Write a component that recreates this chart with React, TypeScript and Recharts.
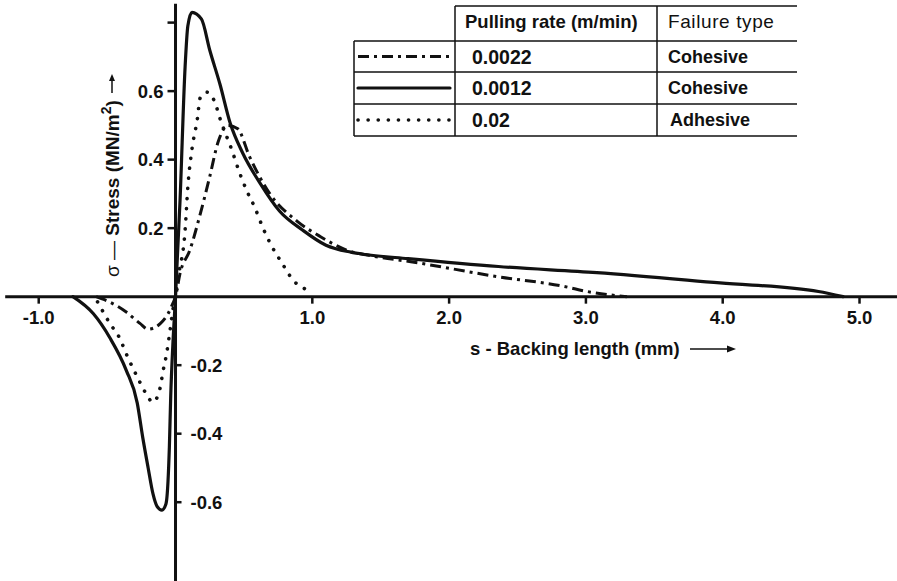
import React from "react";
import {
  ComposedChart,
  Line,
  XAxis,
  YAxis,
  ReferenceLine,
  ReferenceDot,
} from "recharts";

const WIDTH = 897;
const HEIGHT = 581;

// axis window chosen so that 0 sits where the scan puts it
const X_MIN = -1.283;
const X_MAX = 5.274;
const Y_MIN = -0.83;
const Y_MAX = 0.866;

// s - backing length (mm) / stress (MN/m2)
const rate0022S = [-0.58, -0.48, -0.36, -0.26, -0.2, -0.11, -0.055, -0.02, 0, 0.033, 0.105, 0.18, 0.25, 0.31, 0.385, 0.455, 0.54, 0.69, 0.89, 1.06, 1.25, 1.45, 1.72, 2.36, 2.84, 3.01, 3.3];
const rate0022Stress = [0, -0.016, -0.045, -0.078, -0.095, -0.078, -0.05, -0.02, 0, 0.068, 0.136, 0.24, 0.35, 0.45, 0.5, 0.49, 0.41, 0.3, 0.22, 0.175, 0.136, 0.118, 0.102, 0.058, 0.03, 0.015, 0];

const rate0012S = [-0.75, -0.6, -0.48, -0.36, -0.28, -0.24, -0.2, -0.165, -0.135, -0.1, -0.07, -0.055, -0.045, -0.035, -0.02, 0, 0.033, 0.07, 0.09, 0.12, 0.19, 0.25, 0.325, 0.4, 0.49, 0.62, 0.76, 0.93, 1.1, 1.28, 1.39, 1.7, 2.36, 3.08, 3.98, 4.7, 4.88];
const rate0012Stress = [0, -0.05, -0.12, -0.215, -0.31, -0.41, -0.5, -0.575, -0.612, -0.623, -0.605, -0.54, -0.44, -0.29, -0.145, 0, 0.28, 0.67, 0.79, 0.83, 0.81, 0.72, 0.62, 0.506, 0.42, 0.33, 0.25, 0.194, 0.15, 0.13, 0.123, 0.111, 0.088, 0.07, 0.04, 0.015, 0];

const rate02S = [-0.57, -0.48, -0.41, -0.35, -0.28, -0.22, -0.165, -0.115, -0.09, -0.065, -0.04, -0.02, 0, 0.02, 0.07, 0.09, 0.12, 0.16, 0.18, 0.23, 0.29, 0.325, 0.41, 0.47, 0.52, 0.58, 0.64, 0.7, 0.78, 0.86, 1.0];
const rate02Stress = [-0.015, -0.078, -0.12, -0.176, -0.234, -0.28, -0.308, -0.27, -0.215, -0.166, -0.098, -0.04, 0, 0.057, 0.194, 0.32, 0.43, 0.52, 0.58, 0.597, 0.565, 0.52, 0.43, 0.36, 0.31, 0.26, 0.2, 0.15, 0.097, 0.048, 0.016];

const pullingRates = ["0.0022", "0.0012", "0.02"];
const failureTypes = ["Cohesive", "Cohesive", "Adhesive"];

const xTicks = [-1, 1, 2, 3, 4, 5];
const xTickLabels = ["-1.0", "1.0", "2.0", "3.0", "4.0", "5.0"];
const yTicks = [0.8, 0.6, 0.4, 0.2, -0.2, -0.4, -0.6];
const yTickLabels = ["", "0.6", "0.4", "0.2", "-0.2", "-0.4", "-0.6"];

const zip = (xs: number[], ys: number[]) => xs.map((x, i) => ({ x, y: ys[i] }));

const FONT = "'Liberation Sans', Arial, Helvetica, sans-serif";
const INK = "#111";

const series = [
  { key: "r0022", data: zip(rate0022S, rate0022Stress), dash: "11 5 3 5", width: 3, cap: "butt" },
  { key: "r0012", data: zip(rate0012S, rate0012Stress), dash: undefined, width: 3.2, cap: "round" },
  { key: "r02", data: zip(rate02S, rate02Stress), dash: "0.1 10", width: 3.6, cap: "round" },
];

const textStyle = { fontFamily: FONT, fontWeight: 700, fontSize: 18.5, fill: INK };
const tableStyle = { ...textStyle, fontSize: 18 };

const XTick = (props: any) => {
  const { cx, cy, label } = props;
  return (
    <g>
      <line x1={cx} y1={cy} x2={cx} y2={cy + 7} stroke={INK} strokeWidth={2.5} />
      <text x={cx} y={cy + 21} textAnchor="middle" dominantBaseline="central" style={textStyle}>
        {label}
      </text>
    </g>
  );
};

const YTick = (props: any) => {
  const { cx, cy, label, value } = props;
  if (value > 0) {
    return (
      <g>
        <line x1={cx - 8} y1={cy} x2={cx} y2={cy} stroke={INK} strokeWidth={2.5} />
        {label ? (
          <text x={cx - 12} y={cy} textAnchor="end" dominantBaseline="central" style={textStyle}>
            {label}
          </text>
        ) : null}
      </g>
    );
  }
  return (
    <g>
      <line x1={cx} y1={cy} x2={cx + 6} y2={cy} stroke={INK} strokeWidth={2.5} />
      <text x={cx + 15} y={cy} textAnchor="start" dominantBaseline="central" style={textStyle}>
        {label}
      </text>
    </g>
  );
};

const LegendTable = () => {
  const left = 354;
  const col1 = 455;
  const col2 = 657;
  const right = 797;
  const rowLines = [41, 72, 104, 136];
  return (
    <svg width={WIDTH} height={150} style={{ position: "absolute", left: 0, top: 0, pointerEvents: "none" }}>
      <line x1={col1} y1={6} x2={right} y2={6} stroke={INK} strokeWidth={1.5} />
      {rowLines.map((y) => (
        <line key={y} x1={left} y1={y} x2={right} y2={y} stroke={INK} strokeWidth={1.5} />
      ))}
      <line x1={left} y1={41} x2={left} y2={136} stroke={INK} strokeWidth={1.5} />
      <line x1={col1} y1={6} x2={col1} y2={136} stroke={INK} strokeWidth={1.5} />
      <line x1={col2} y1={6} x2={col2} y2={136} stroke={INK} strokeWidth={1.5} />
      <text x={465} y={21} dominantBaseline="central" style={{ ...tableStyle, fontSize: 18.5 }}>
        Pulling rate (m/min)
      </text>
      <text x={668} y={21} dominantBaseline="central" style={{ ...tableStyle, fontWeight: 400, fontSize: 19, letterSpacing: 0.6 }}>
        Failure type
      </text>
      {series.map((s, i) => {
        const cy = (rowLines[i] + rowLines[i + 1]) / 2;
        return (
          <g key={s.key}>
            <line
              x1={358}
              y1={cy}
              x2={450}
              y2={cy}
              stroke={INK}
              strokeWidth={s.width}
              strokeDasharray={s.dash}
              strokeLinecap={s.cap as any}
            />
            <text x={472} y={cy} dominantBaseline="central" style={{ ...tableStyle, fontSize: 19.5 }}>
              {pullingRates[i]}
            </text>
            <text x={i === 2 ? 670 : 668} y={cy} dominantBaseline="central" style={tableStyle}>
              {failureTypes[i]}
            </text>
          </g>
        );
      })}
    </svg>
  );
};

const AxisTitles = () => (
  <svg width={WIDTH} height={HEIGHT} style={{ position: "absolute", left: 0, top: 0, pointerEvents: "none" }}>
    <g transform="translate(112 277) rotate(-90)">
      <text x={0} y={0} dominantBaseline="central" style={{ ...textStyle, fontSize: 19 }}>
        <tspan style={{ fontWeight: 400 }}>σ — </tspan>
        Stress (MN/m<tspan dy={-6} fontSize={14}>2</tspan>
        <tspan dy={6}>)</tspan>
      </text>
      <line x1={184} y1={0} x2={200} y2={0} stroke={INK} strokeWidth={1.5} />
      <polygon points="203,0 196,-3 196,3" fill={INK} />
    </g>
    <text x={470} y={348} dominantBaseline="central" style={textStyle}>
      s - Backing length (mm)
    </text>
    <line x1={690} y1={349} x2={728} y2={349} stroke={INK} strokeWidth={1.5} />
    <polygon points="736,349 727,345.5 727,352.5" fill={INK} />
  </svg>
);

export default function App() {
  return (
    <div style={{ position: "absolute", left: 0, top: 0, width: WIDTH, height: HEIGHT, background: "#fff" }}>
      <ComposedChart width={WIDTH} height={HEIGHT} margin={{ top: 0, right: 0, bottom: 0, left: 0 }}>
        <XAxis type="number" dataKey="x" domain={[X_MIN, X_MAX]} allowDataOverflow hide />
        <YAxis type="number" dataKey="y" domain={[Y_MIN, Y_MAX]} allowDataOverflow hide />
        <ReferenceLine
          segment={[{ x: -1.245, y: 0 }, { x: X_MAX, y: 0 }]}
          stroke={INK}
          strokeWidth={3}
        />
        <ReferenceLine
          segment={[{ x: 0, y: 0.855 }, { x: 0, y: Y_MIN }]}
          stroke={INK}
          strokeWidth={3}
        />
        {xTicks.map((t, i) => (
          <ReferenceDot
            key={"x" + t}
            x={t}
            y={0}
            r={0}
            shape={(p: any) => <XTick {...p} label={xTickLabels[i]} />}
          />
        ))}
        {yTicks.map((t, i) => (
          <ReferenceDot
            key={"y" + t}
            x={0}
            y={t}
            r={0}
            shape={(p: any) => <YTick {...p} value={t} label={yTickLabels[i]} />}
          />
        ))}
        {series.map((s) => (
          <Line
            key={s.key}
            data={s.data}
            dataKey="y"
            type="monotone"
            stroke={INK}
            strokeWidth={s.width}
            strokeDasharray={s.dash}
            strokeLinecap={s.cap as any}
            dot={false}
            activeDot={false}
            isAnimationActive={false}
          />
        ))}
      </ComposedChart>
      <LegendTable />
      <AxisTitles />
    </div>
  );
}
